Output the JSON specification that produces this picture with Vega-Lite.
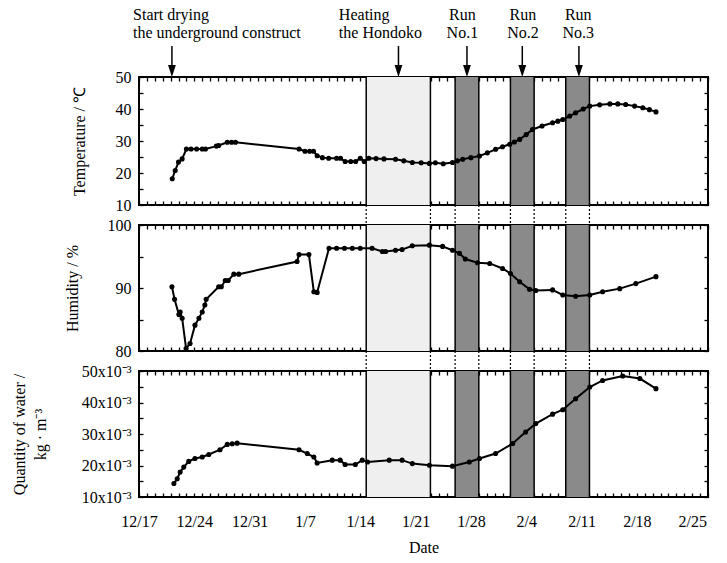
{
  "$schema": "https://vega.github.io/schema/vega-lite/v6.json",
  "padding": {"left": 10, "top": 5, "right": 20, "bottom": 5},
  "background": "white",
  "config": {
    "font": "Liberation Serif",
    "view": {"stroke": "black", "strokeWidth": 2},
    "axis": {
      "domain": false, "ticks": true, "tickColor": "black", "tickWidth": 1.3, "tickSize": 4, "offset": -4, "zindex": 2,
      "labelFont": "Liberation Serif", "labelFontSize": 16, "labelColor": "black",
      "titleFont": "Liberation Serif", "titleFontSize": 16, "titleFontWeight": "normal", "titleColor": "black",
      "grid": false, "labelFlush": false, "labelOverlap": false
    }
  },
  "datasets": {
    "temperature": [
      {"date": "1998-12-21T05:00", "temp": 18.2}, {"date": "1998-12-21T14:00", "temp": 20.8},
      {"date": "1998-12-22T00:00", "temp": 23.4}, {"date": "1998-12-22T11:00", "temp": 24.4},
      {"date": "1998-12-23T00:00", "temp": 27.5}, {"date": "1998-12-23T14:00", "temp": 27.5},
      {"date": "1998-12-24T07:00", "temp": 27.5}, {"date": "1998-12-25T00:00", "temp": 27.5},
      {"date": "1998-12-25T10:00", "temp": 27.5}, {"date": "1998-12-26T19:00", "temp": 28.4},
      {"date": "1998-12-27T02:00", "temp": 28.6}, {"date": "1998-12-28T04:00", "temp": 29.6},
      {"date": "1998-12-28T17:00", "temp": 29.6}, {"date": "1998-12-29T05:00", "temp": 29.6},
      {"date": "1999-01-06T06:00", "temp": 27.5}, {"date": "1999-01-07T00:00", "temp": 26.8},
      {"date": "1999-01-07T14:00", "temp": 26.8}, {"date": "1999-01-08T02:00", "temp": 26.8},
      {"date": "1999-01-08T13:00", "temp": 25.4}, {"date": "1999-01-09T05:00", "temp": 24.8},
      {"date": "1999-01-10T00:00", "temp": 24.6}, {"date": "1999-01-11T00:00", "temp": 24.6},
      {"date": "1999-01-11T12:00", "temp": 24.6}, {"date": "1999-01-12T02:00", "temp": 23.6},
      {"date": "1999-01-12T19:00", "temp": 23.6}, {"date": "1999-01-13T10:00", "temp": 23.6},
      {"date": "1999-01-14T00:00", "temp": 24.6}, {"date": "1999-01-14T12:00", "temp": 23.6},
      {"date": "1999-01-15T02:00", "temp": 24.6}, {"date": "1999-01-16T00:00", "temp": 24.5},
      {"date": "1999-01-17T00:00", "temp": 24.4}, {"date": "1999-01-18T11:00", "temp": 24.3},
      {"date": "1999-01-19T12:00", "temp": 23.8}, {"date": "1999-01-20T14:00", "temp": 23.3},
      {"date": "1999-01-21T17:00", "temp": 23.2}, {"date": "1999-01-22T18:00", "temp": 23.0},
      {"date": "1999-01-23T12:00", "temp": 23.2}, {"date": "1999-01-24T12:00", "temp": 22.9},
      {"date": "1999-01-25T16:00", "temp": 23.3}, {"date": "1999-01-26T07:00", "temp": 23.8},
      {"date": "1999-01-26T23:00", "temp": 24.3}, {"date": "1999-01-28T00:00", "temp": 24.8},
      {"date": "1999-01-29T02:00", "temp": 25.3}, {"date": "1999-01-30T02:00", "temp": 26.3},
      {"date": "1999-01-31T03:00", "temp": 27.4}, {"date": "1999-02-01T00:00", "temp": 28.2},
      {"date": "1999-02-01T22:00", "temp": 29.0}, {"date": "1999-02-02T12:00", "temp": 29.7},
      {"date": "1999-02-03T04:00", "temp": 30.5}, {"date": "1999-02-04T00:00", "temp": 32.0},
      {"date": "1999-02-04T19:00", "temp": 33.6}, {"date": "1999-02-06T00:00", "temp": 34.7},
      {"date": "1999-02-07T08:00", "temp": 35.7}, {"date": "1999-02-08T00:00", "temp": 36.2},
      {"date": "1999-02-08T15:00", "temp": 36.7}, {"date": "1999-02-09T12:00", "temp": 37.8},
      {"date": "1999-02-10T06:00", "temp": 38.8}, {"date": "1999-02-11T05:00", "temp": 40.0},
      {"date": "1999-02-12T01:00", "temp": 40.9}, {"date": "1999-02-13T07:00", "temp": 41.3},
      {"date": "1999-02-14T14:00", "temp": 41.6}, {"date": "1999-02-15T14:00", "temp": 41.6},
      {"date": "1999-02-16T14:00", "temp": 41.4}, {"date": "1999-02-17T17:00", "temp": 40.9},
      {"date": "1999-02-18T18:00", "temp": 40.4}, {"date": "1999-02-19T14:00", "temp": 39.8},
      {"date": "1999-02-20T10:00", "temp": 39.1}
    ],
    "humidity": [
      {"date": "1998-12-21T04:00", "hum": 90.2}, {"date": "1998-12-21T12:00", "hum": 88.2},
      {"date": "1998-12-22T01:00", "hum": 85.8}, {"date": "1998-12-22T05:00", "hum": 86.2},
      {"date": "1998-12-22T11:00", "hum": 85.2}, {"date": "1998-12-22T23:00", "hum": 80.4},
      {"date": "1998-12-23T11:00", "hum": 81.2}, {"date": "1998-12-24T02:00", "hum": 84.1},
      {"date": "1998-12-24T14:00", "hum": 85.2}, {"date": "1998-12-25T00:00", "hum": 86.2},
      {"date": "1998-12-25T08:00", "hum": 87.3}, {"date": "1998-12-25T12:00", "hum": 88.2},
      {"date": "1998-12-27T02:00", "hum": 90.2}, {"date": "1998-12-27T10:00", "hum": 90.2},
      {"date": "1998-12-27T22:00", "hum": 91.2}, {"date": "1998-12-28T07:00", "hum": 91.2},
      {"date": "1998-12-29T00:00", "hum": 92.2}, {"date": "1998-12-29T15:00", "hum": 92.2},
      {"date": "1999-01-06T00:00", "hum": 94.2}, {"date": "1999-01-06T06:00", "hum": 95.3},
      {"date": "1999-01-07T12:00", "hum": 95.3}, {"date": "1999-01-08T03:00", "hum": 89.4},
      {"date": "1999-01-08T13:00", "hum": 89.3}, {"date": "1999-01-10T01:00", "hum": 96.3},
      {"date": "1999-01-11T00:00", "hum": 96.3}, {"date": "1999-01-12T00:00", "hum": 96.3},
      {"date": "1999-01-13T00:00", "hum": 96.3}, {"date": "1999-01-14T00:00", "hum": 96.3},
      {"date": "1999-01-15T12:00", "hum": 96.3}, {"date": "1999-01-16T19:00", "hum": 95.8},
      {"date": "1999-01-17T05:00", "hum": 95.8}, {"date": "1999-01-18T11:00", "hum": 96.0},
      {"date": "1999-01-19T07:00", "hum": 96.1}, {"date": "1999-01-20T14:00", "hum": 96.7},
      {"date": "1999-01-22T18:00", "hum": 96.8}, {"date": "1999-01-24T10:00", "hum": 96.6},
      {"date": "1999-01-25T16:00", "hum": 96.0}, {"date": "1999-01-26T13:00", "hum": 95.5},
      {"date": "1999-01-27T07:00", "hum": 94.6}, {"date": "1999-01-28T20:00", "hum": 94.0},
      {"date": "1999-01-30T09:00", "hum": 93.9}, {"date": "1999-02-01T00:00", "hum": 93.1},
      {"date": "1999-02-02T00:00", "hum": 92.3}, {"date": "1999-02-03T04:00", "hum": 91.0},
      {"date": "1999-02-04T10:00", "hum": 89.8}, {"date": "1999-02-05T05:00", "hum": 89.6},
      {"date": "1999-02-07T08:00", "hum": 89.7}, {"date": "1999-02-08T15:00", "hum": 88.9},
      {"date": "1999-02-10T06:00", "hum": 88.7}, {"date": "1999-02-12T01:00", "hum": 88.9},
      {"date": "1999-02-13T16:00", "hum": 89.4}, {"date": "1999-02-15T20:00", "hum": 89.9},
      {"date": "1999-02-17T21:00", "hum": 90.7}, {"date": "1999-02-20T10:00", "hum": 91.8}
    ],
    "water": [
      {"date": "1998-12-21T10:00", "water": 0.0143}, {"date": "1998-12-21T20:00", "water": 0.0158},
      {"date": "1998-12-22T05:00", "water": 0.0179}, {"date": "1998-12-22T16:00", "water": 0.0195},
      {"date": "1998-12-23T07:00", "water": 0.0213}, {"date": "1998-12-24T02:00", "water": 0.0222},
      {"date": "1998-12-25T00:00", "water": 0.0227}, {"date": "1998-12-25T20:00", "water": 0.0235},
      {"date": "1998-12-27T06:00", "water": 0.0250}, {"date": "1998-12-28T04:00", "water": 0.0267},
      {"date": "1998-12-28T19:00", "water": 0.0269}, {"date": "1998-12-29T10:00", "water": 0.0271},
      {"date": "1999-01-06T06:00", "water": 0.0250}, {"date": "1999-01-07T07:00", "water": 0.0238},
      {"date": "1999-01-08T03:00", "water": 0.0227}, {"date": "1999-01-08T13:00", "water": 0.0208},
      {"date": "1999-01-10T11:00", "water": 0.0217}, {"date": "1999-01-11T11:00", "water": 0.0217},
      {"date": "1999-01-12T02:00", "water": 0.0203}, {"date": "1999-01-13T09:00", "water": 0.0203},
      {"date": "1999-01-14T06:00", "water": 0.0217}, {"date": "1999-01-14T22:00", "water": 0.0211},
      {"date": "1999-01-17T16:00", "water": 0.0217}, {"date": "1999-01-19T07:00", "water": 0.0217},
      {"date": "1999-01-20T14:00", "water": 0.0206}, {"date": "1999-01-22T18:00", "water": 0.0201},
      {"date": "1999-01-25T16:00", "water": 0.0198}, {"date": "1999-01-27T19:00", "water": 0.0211},
      {"date": "1999-01-29T02:00", "water": 0.0222}, {"date": "1999-01-31T03:00", "water": 0.0238},
      {"date": "1999-02-02T07:00", "water": 0.0270}, {"date": "1999-02-03T22:00", "water": 0.0306},
      {"date": "1999-02-05T05:00", "water": 0.0333}, {"date": "1999-02-07T08:00", "water": 0.0363},
      {"date": "1999-02-08T15:00", "water": 0.0377}, {"date": "1999-02-10T06:00", "water": 0.0412},
      {"date": "1999-02-12T01:00", "water": 0.0449}, {"date": "1999-02-13T16:00", "water": 0.0470},
      {"date": "1999-02-16T05:00", "water": 0.0484}, {"date": "1999-02-18T09:00", "water": 0.0476},
      {"date": "1999-02-20T10:00", "water": 0.0444}
    ],
    "periods": [
      {"name": "Heating the Hondoko", "kind": "heating", "start": "1999-01-14T18:00", "end": "1999-01-22T21:00"},
      {"name": "Run No.1", "kind": "run", "start": "1999-01-26T00:00", "end": "1999-01-29T00:00"},
      {"name": "Run No.2", "kind": "run", "start": "1999-02-02T00:00", "end": "1999-02-05T00:00"},
      {"name": "Run No.3", "kind": "run", "start": "1999-02-09T00:00", "end": "1999-02-12T00:00"}
    ],
    "annotations": [
      {"label": ["Start drying", "the underground construct"], "group": "event", "textDate": "1998-12-16T06:00", "arrowDate": "1998-12-21T04:00"},
      {"label": ["Heating", "the Hondoko"], "group": "event", "textDate": "1999-01-11T07:00", "arrowDate": "1999-01-18T20:00"},
      {"label": ["Run", "No.1"], "group": "run", "textDate": "1999-01-26T22:00", "arrowDate": "1999-01-27T12:00"},
      {"label": ["Run", "No.2"], "group": "run", "textDate": "1999-02-03T14:00", "arrowDate": "1999-02-03T12:00"},
      {"label": ["Run", "No.3"], "group": "run", "textDate": "1999-02-10T14:00", "arrowDate": "1999-02-10T16:00"}
    ]
  },
  "spacing": 20,
  "bounds": "flush",
  "vconcat": [
    {
      "width": 569, "height": 128,
      "resolve": {"axis": {"x": "independent", "y": "independent"}},
      "layer": [
        {"data": {"name": "periods"}, "mark": {"type": "rect"},
         "encoding": {
           "x": {"field": "start", "type": "temporal", "axis": null, "scale": {"domain": [{"year": 1998, "month": 12, "date": 17}, {"year": 1999, "month": 2, "date": 27}], "nice": false}},
           "x2": {"field": "end"},
           "color": {"condition": {"test": "datum.kind === 'run'", "value": "#8a8a8a"}, "value": "#efefef"}}},
        {"data": {"name": "periods"}, "mark": {"type": "rule", "color": "black", "strokeWidth": 1.5},
         "encoding": {"x": {"field": "start", "type": "temporal", "axis": null}}},
        {"data": {"name": "periods"}, "mark": {"type": "rule", "color": "black", "strokeWidth": 1.5},
         "encoding": {"x": {"field": "end", "type": "temporal", "axis": null}}},
        {"data": {"name": "periods"}, "mark": {"type": "rule", "color": "black", "strokeWidth": 1.2, "strokeDash": [2, 2]},
         "encoding": {"x": {"field": "start", "type": "temporal", "axis": null}, "y": {"datum": 10, "type": "quantitative", "axis": null}, "y2": {"datum": 3.75}}},
        {"data": {"name": "periods"}, "mark": {"type": "rule", "color": "black", "strokeWidth": 1.2, "strokeDash": [2, 2]},
         "encoding": {"x": {"field": "end", "type": "temporal", "axis": null}, "y": {"datum": 10, "type": "quantitative", "axis": null}, "y2": {"datum": 3.75}}},
        {"data": {"name": "temperature"},
         "mark": {"type": "line", "color": "black", "strokeWidth": 2, "point": {"filled": true, "color": "black", "size": 26}},
         "encoding": {
           "x": {"field": "date", "type": "temporal",
                 "axis": {"orient": "bottom", "labels": false, "title": null, "tickCount": {"interval": "day", "step": 1}}},
           "y": {"field": "temp", "type": "quantitative", "scale": {"domain": [10, 50], "nice": false, "zero": false},
                 "axis": {"orient": "left", "title": "Temperature / ℃", "values": [10, 15, 20, 25, 30, 35, 40, 45, 50],
                          "labelExpr": "datum.value % 10 === 0 ? datum.label : ''", "labelPadding": 8, "titlePadding": 28}}}},
        {"data": {"name": "temperature"}, "mark": {"type": "point", "opacity": 0},
         "encoding": {
           "x": {"field": "date", "type": "temporal", "axis": {"orient": "top", "labels": false, "title": null, "tickCount": {"interval": "day", "step": 1}}},
           "y": {"field": "temp", "type": "quantitative", "axis": {"orient": "right", "labels": false, "title": null, "values": [10, 15, 20, 25, 30, 35, 40, 45, 50]}}}},
        {"data": {"name": "annotations"}, "transform": [{"filter": "datum.group === 'event'"}],
         "mark": {"type": "text", "align": "left", "baseline": "top", "fontSize": 16, "lineHeight": 18, "color": "black"},
         "encoding": {"x": {"field": "textDate", "type": "temporal", "axis": null}, "y": {"datum": 72, "type": "quantitative", "axis": null}, "text": {"field": "label"}}},
        {"data": {"name": "annotations"}, "transform": [{"filter": "datum.group === 'run'"}],
         "mark": {"type": "text", "align": "center", "baseline": "top", "fontSize": 16, "lineHeight": 18, "color": "black"},
         "encoding": {"x": {"field": "textDate", "type": "temporal", "axis": null}, "y": {"datum": 72, "type": "quantitative", "axis": null}, "text": {"field": "label"}}},
        {"data": {"name": "annotations"}, "mark": {"type": "rule", "color": "black", "strokeWidth": 1.5},
         "encoding": {"x": {"field": "arrowDate", "type": "temporal", "axis": null}, "y": {"datum": 59.7, "type": "quantitative", "axis": null}, "y2": {"datum": 53}}},
        {"data": {"name": "annotations"}, "mark": {"type": "point", "shape": "M-0.65,-1L0.65,-1L0,1Z", "filled": true, "color": "black", "opacity": 1, "size": 144},
         "encoding": {"x": {"field": "arrowDate", "type": "temporal", "axis": null}, "y": {"datum": 51.9, "type": "quantitative", "axis": null}}}
      ]
    },
    {
      "width": 569, "height": 126,
      "resolve": {"axis": {"x": "independent", "y": "independent"}},
      "layer": [
        {"data": {"name": "periods"}, "mark": {"type": "rect"},
         "encoding": {
           "x": {"field": "start", "type": "temporal", "axis": null, "scale": {"domain": [{"year": 1998, "month": 12, "date": 17}, {"year": 1999, "month": 2, "date": 27}], "nice": false}},
           "x2": {"field": "end"},
           "color": {"condition": {"test": "datum.kind === 'run'", "value": "#8a8a8a"}, "value": "#efefef"}}},
        {"data": {"name": "periods"}, "mark": {"type": "rule", "color": "black", "strokeWidth": 1.5},
         "encoding": {"x": {"field": "start", "type": "temporal", "axis": null}}},
        {"data": {"name": "periods"}, "mark": {"type": "rule", "color": "black", "strokeWidth": 1.5},
         "encoding": {"x": {"field": "end", "type": "temporal", "axis": null}}},
        {"data": {"name": "periods"}, "mark": {"type": "rule", "color": "black", "strokeWidth": 1.2, "strokeDash": [2, 2]},
         "encoding": {"x": {"field": "start", "type": "temporal", "axis": null}, "y": {"datum": 80, "type": "quantitative", "axis": null}, "y2": {"datum": 76.8}}},
        {"data": {"name": "periods"}, "mark": {"type": "rule", "color": "black", "strokeWidth": 1.2, "strokeDash": [2, 2]},
         "encoding": {"x": {"field": "end", "type": "temporal", "axis": null}, "y": {"datum": 80, "type": "quantitative", "axis": null}, "y2": {"datum": 76.8}}},
        {"data": {"name": "humidity"},
         "mark": {"type": "line", "color": "black", "strokeWidth": 2, "point": {"filled": true, "color": "black", "size": 26}},
         "encoding": {
           "x": {"field": "date", "type": "temporal",
                 "axis": {"orient": "bottom", "labels": false, "title": null, "tickCount": {"interval": "day", "step": 1}}},
           "y": {"field": "hum", "type": "quantitative", "scale": {"domain": [80, 100], "nice": false, "zero": false},
                 "axis": {"orient": "left", "title": "Humidity / %", "values": [80, 85, 90, 95, 100],
                          "labelExpr": "datum.value % 10 === 0 ? datum.label : ''", "labelPadding": 8, "titlePadding": 27}}}},
        {"data": {"name": "humidity"}, "mark": {"type": "point", "opacity": 0},
         "encoding": {
           "x": {"field": "date", "type": "temporal", "axis": {"orient": "top", "labels": false, "title": null, "tickCount": {"interval": "day", "step": 1}}},
           "y": {"field": "hum", "type": "quantitative", "axis": {"orient": "right", "labels": false, "title": null, "values": [80, 85, 90, 95, 100]}}}}
      ]
    },
    {
      "width": 569, "height": 126,
      "resolve": {"axis": {"x": "independent", "y": "independent"}},
      "layer": [
        {"data": {"name": "periods"}, "mark": {"type": "rect"},
         "encoding": {
           "x": {"field": "start", "type": "temporal", "axis": null, "scale": {"domain": [{"year": 1998, "month": 12, "date": 17}, {"year": 1999, "month": 2, "date": 27}], "nice": false}},
           "x2": {"field": "end"},
           "color": {"condition": {"test": "datum.kind === 'run'", "value": "#8a8a8a"}, "value": "#efefef"}}},
        {"data": {"name": "periods"}, "mark": {"type": "rule", "color": "black", "strokeWidth": 1.5},
         "encoding": {"x": {"field": "start", "type": "temporal", "axis": null}}},
        {"data": {"name": "periods"}, "mark": {"type": "rule", "color": "black", "strokeWidth": 1.5},
         "encoding": {"x": {"field": "end", "type": "temporal", "axis": null}}},
        {"data": {"name": "water"},
         "mark": {"type": "line", "color": "black", "strokeWidth": 2, "point": {"filled": true, "color": "black", "size": 26}},
         "encoding": {
           "x": {"field": "date", "type": "temporal",
                 "axis": {"orient": "bottom", "title": "Date", "tickCount": {"interval": "day", "step": 1},
                          "labelExpr": "round((datum.value - datetime(1998, 11, 17)) / 86400000) % 7 === 0 ? timeFormat(datum.value, '%-m/%-d') : ''",
                          "labelPadding": 16, "titlePadding": 10}},
           "y": {"field": "water", "type": "quantitative", "scale": {"domain": [0.01, 0.05], "nice": false, "zero": false},
                 "axis": {"orient": "left", "title": ["Quantity of water /", "kg · m⁻³"], "titleLineHeight": 21,
                          "values": [0.01, 0.015, 0.02, 0.025, 0.03, 0.035, 0.04, 0.045, 0.05],
                          "labelExpr": "round(datum.value * 1000) % 10 === 0 ? round(datum.value * 1000) + 'x10⁻³' : ''",
                          "labelPadding": 8, "titlePadding": 33}}}},
        {"data": {"name": "water"}, "mark": {"type": "point", "opacity": 0},
         "encoding": {
           "x": {"field": "date", "type": "temporal", "axis": {"orient": "top", "labels": false, "title": null, "tickCount": {"interval": "day", "step": 1}}},
           "y": {"field": "water", "type": "quantitative", "axis": {"orient": "right", "labels": false, "title": null, "values": [0.01, 0.015, 0.02, 0.025, 0.03, 0.035, 0.04, 0.045, 0.05]}}}}
      ]
    }
  ]
}
